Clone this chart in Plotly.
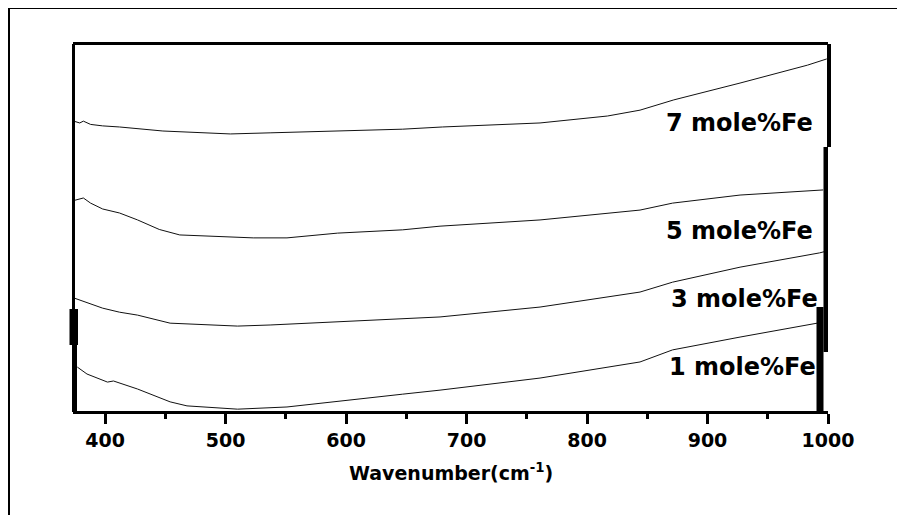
import plotly.graph_objects as go

# Wavenumber (cm^-1) and relative transmittance (arbitrary offset units)
wn_7 = [374, 379, 382, 388, 398, 412, 448, 504, 537, 593, 647, 680, 761, 817, 844, 872, 927, 983, 999]
tr_7 = [79.2, 78.7, 79.2, 78.3, 77.9, 77.6, 76.5, 75.7, 76.0, 76.5, 77.0, 77.6, 78.7, 80.6, 82.2, 85.0, 89.6, 94.5, 96.2]

wn_5 = [374, 382, 388, 398, 412, 427, 445, 462, 523, 551, 593, 647, 678, 761, 844, 871, 927, 996]
tr_5 = [57.5, 58.2, 56.8, 55.2, 54.1, 52.2, 49.6, 48.1, 47.3, 47.3, 48.6, 49.5, 50.5, 52.2, 54.9, 56.8, 59.0, 60.4]

wn_3 = [374, 388, 398, 412, 427, 454, 510, 537, 593, 647, 678, 761, 844, 871, 927, 993, 999]
tr_3 = [30.9, 29.2, 28.1, 27.0, 26.2, 24.0, 23.2, 23.5, 24.3, 25.1, 25.7, 28.4, 32.5, 35.2, 39.3, 43.2, 43.7]

wn_1 = [377, 385, 402, 407, 427, 454, 468, 510, 551, 593, 647, 678, 761, 844, 871, 927, 991]
tr_1 = [12.0, 10.1, 7.9, 8.2, 6.0, 2.5, 1.4, 0.5, 1.1, 2.7, 4.6, 5.7, 9.0, 13.4, 16.7, 20.2, 24.0]

series_names = ["7 mole%Fe", "5 mole%Fe", "3 mole%Fe", "1 mole%Fe"]
label_x = [989, 989, 993, 992]
label_y = [78.7, 49.3, 30.6, 12.0]

x_ticks = [400, 500, 600, 700, 800, 900, 1000]

FONT = "DejaVu Sans"
OFF = 8  # browser body margin

fig = go.Figure()
for wn, tr, name in zip([wn_7, wn_5, wn_3, wn_1], [tr_7, tr_5, tr_3, tr_1], series_names):
    fig.add_trace(go.Scatter(x=wn, y=tr, mode="lines", name=name,
                             line=dict(color="#111111", width=1), showlegend=False))

for name, lx, ly in zip(series_names, label_x, label_y):
    fig.add_annotation(x=lx, y=ly, xref="x", yref="y", text=name, showarrow=False,
                       xanchor="right", yanchor="middle",
                       font=dict(family=FONT, size=24, color="black", weight="bold"))

# axis title
fig.add_annotation(x=0.5, y=-0.167, xref="paper", yref="paper",
                   text="Wavenumber(cm<sup>-1</sup>)", showarrow=False,
                   xanchor="center", yanchor="middle",
                   font=dict(family=FONT, size=19, color="black", weight="bold"))

W, H = 755.0, 366.0
def px(p):
    return (p - 73) / W
def py(p):
    return (411 - p) / H

shapes = []
# outer frame (cropped at right/bottom)
shapes.append(dict(type="rect", xref="paper", yref="paper", x0=px(9), x1=px(960), y0=py(560), y1=py(8),
                   line=dict(color="black", width=2), fillcolor="rgba(0,0,0,0)", layer="below"))
# left axis
shapes.append(dict(type="rect", xref="paper", yref="paper", x0=px(72), x1=px(75), y0=py(412), y1=py(44),
                   line=dict(width=0), fillcolor="black"))
shapes.append(dict(type="rect", xref="paper", yref="paper", x0=px(69.5), x1=px(78), y0=py(345), y1=py(309),
                   line=dict(width=0), fillcolor="black"))
shapes.append(dict(type="rect", xref="paper", yref="paper", x0=px(73), x1=px(77), y0=py(411), y1=py(345),
                   line=dict(width=0), fillcolor="black"))
# right axis (segmented)
shapes.append(dict(type="rect", xref="paper", yref="paper", x0=px(827), x1=px(831), y0=py(147), y1=py(44),
                   line=dict(width=0), fillcolor="black"))
shapes.append(dict(type="rect", xref="paper", yref="paper", x0=px(823.5), x1=px(828), y0=py(352), y1=py(147),
                   line=dict(width=0), fillcolor="black"))
shapes.append(dict(type="rect", xref="paper", yref="paper", x0=px(816.5), x1=px(823.5), y0=py(412), y1=py(307),
                   line=dict(width=0), fillcolor="black"))
fig.update_layout(shapes=shapes)

fig.update_xaxes(range=[373.4, 1000], tickvals=x_ticks, ticktext=[str(v) for v in x_ticks],
                 showline=True, linecolor="black", linewidth=3, mirror=True,
                 ticks="outside", ticklen=10, tickwidth=3, tickcolor="black",
                 minor=dict(dtick=50, tick0=0, ticks="outside", ticklen=5, tickwidth=3, tickcolor="black"),
                 showgrid=False, zeroline=False,
                 tickfont=dict(family=FONT, size=19, color="black", weight="bold"))
fig.update_yaxes(range=[0, 100], showline=False, showticklabels=False, showgrid=False, zeroline=False,
                 ticks="")

fig.update_layout(width=905 - OFF, height=515 - OFF,
                  margin=dict(l=73 - OFF, r=77, t=45 - OFF, b=104),
                  paper_bgcolor="white", plot_bgcolor="white")

fig.write_html("out.html")
